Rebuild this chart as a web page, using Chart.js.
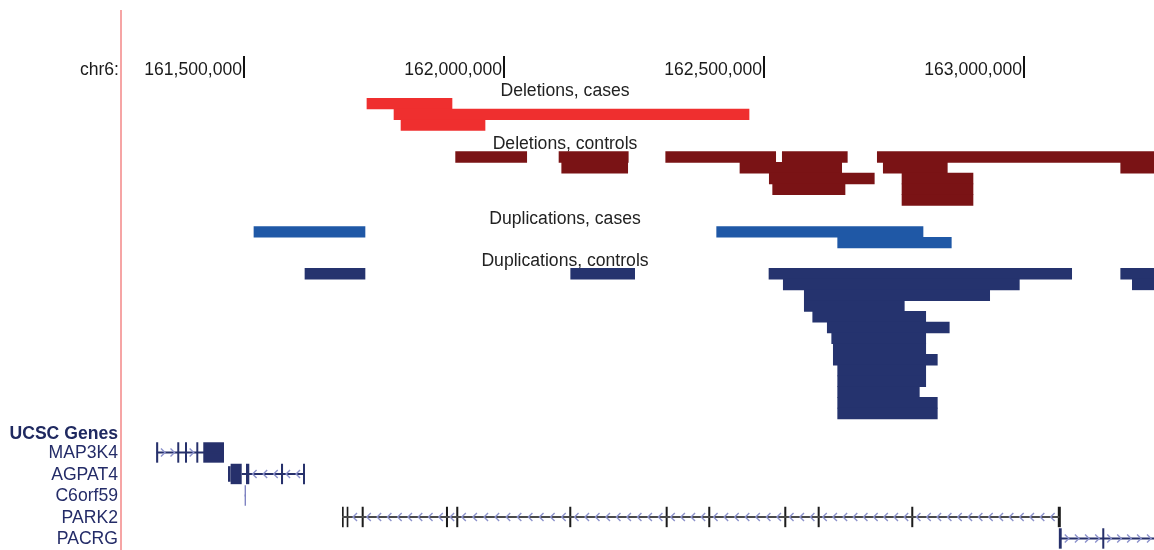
<!DOCTYPE html>
<html>
<head>
<meta charset="utf-8">
<script src="https://cdn.jsdelivr.net/npm/chart.js@4.4.1/dist/chart.umd.min.js"></script>
<style>
  html, body { margin: 0; padding: 0; background: #fff; }
  #wrap { position: relative; width: 1154px; height: 550px; }
</style>
</head>
<body>
<div id="wrap"><canvas id="c"></canvas></div>
<script>
// Browser window on chr6
const CHROM = 'chr6:';
const VIEW_START = 161265400;
const VIEW_END = 163250000;
const tickValues = [161500000, 162000000, 162500000, 163000000];
const tickLabels = ['161,500,000', '162,000,000', '162,500,000', '163,000,000'];

// CNV calls: [start, end, packing row]
const deletionsCases = [
  [161736500, 161900000, 0],
  [161788500, 162471200, 1],
  [161802000, 161963500, 2]
];
const deletionsControls = [
  [161907000, 162043700, 0], [162105800, 162239000, 0], [162311000, 162522500, 0],
  [162535200, 162660200, 0], [162717900, 163250000, 0],
  [162111000, 162237900, 1], [162453800, 162649400, 1], [162729400, 162852500, 1],
  [163186000, 163250000, 1],
  [162510200, 162712100, 2], [162765400, 162901900, 2],
  [162516700, 162655800, 3], [162765400, 162901900, 3],
  [162765400, 162901900, 4]
];
const duplicationsCases = [
  [161519200, 161732700, 0], [162409000, 162805800, 0],
  [162641700, 162860200, 1]
];
const duplicationsControls = [
  [161617300, 161732700, 0], [162128300, 162251300, 0], [162509600, 163091700, 0],
  [163186000, 163250000, 0],
  [162537100, 162991000, 1], [163208300, 163250000, 1],
  [162577500, 162934000, 2],
  [162577500, 162769800, 3],
  [162593700, 162811000, 4],
  [162621700, 162856300, 5],
  [162630200, 162811000, 6],
  [162633300, 162811000, 7],
  [162633300, 162833300, 8],
  [162641700, 162811000, 9],
  [162641700, 162811000, 10],
  [162641700, 162798700, 11],
  [162641700, 162833300, 12],
  [162641700, 162833300, 13]
];
const trackTitles = ['Deletions, cases', 'Deletions, controls', 'Duplications, cases', 'Duplications, controls'];

// UCSC Genes
const geneNames = ['MAP3K4', 'AGPAT4', 'C6orf59', 'PARK2', 'PACRG'];
const geneStrands = ['+', '-', '', '-', '+'];
const geneSpans = [
  [161332100, 161461500],
  [161495600, 161615400],
  [161501200, 161503800],
  [161688500, 163067900],
  [163068000, 163300000]
];
const geneExons = [
  [[161331000, 161335000], [161371700, 161375500], [161386500, 161390400], [161408300, 161412100], [161421700, 161461500]],
  [[161474300, 161495600], [161503800, 161510200], [161571200, 161575100], [161613500, 161617300]],
  [[161501200, 161503800]],
  [[161688500, 161691700], [161697500, 161700700], [161726300, 161730200], [161888400, 161892300],
   [161908200, 161912100], [162125500, 162129400], [162310900, 162314800], [162392800, 162396700],
   [162539000, 162542900], [162603200, 162607100], [162783200, 162787100], [163065000, 163070800]],
  [[163067000, 163072500], [163150500, 163154400]]
];
const geneUtrs = [[], [[161469200, 161474300]], [], [], []];

// ---- layout & styles ----
const ROW_PX = 10.75;
const Y_ROWS = 550 / ROW_PX;
const TRACK_TOPS = [9.14, 14.11, 21.07, 24.96];   // in rows
const GENE_TOP = 42.09;
const GENE_PITCH = 2;
const TRACK_COLORS = ['#EF2F2F', '#7A1315', '#1F58A6', '#25336E'];
const GENE_COLORS = ['#26306B', '#26306B', '#7C81C0', '#1C1C1C', '#26306B'];
const GENE_LINE_COLORS = ['#26306B', '#26306B', '#7C81C0', '#4A4A4A', '#26306B'];
const CHEVRON_COLOR = '#8C92CC';
const FONT = '"Liberation Sans", Arial, Helvetica, sans-serif';

const barBase = { categoryPercentage: 1, barPercentage: 1, grouped: false, clip: 0, borderWidth: 0 };

const cnvTracks = [deletionsCases, deletionsControls, duplicationsCases, duplicationsControls];
const datasets = cnvTracks.map((rows, t) => Object.assign({}, barBase, {
  label: trackTitles[t],
  data: rows.map(([s, e, r]) => ({ x: [s, e], y: TRACK_TOPS[t] + r + 0.5 })),
  backgroundColor: TRACK_COLORS[t]
}));

const geneY = g => GENE_TOP + g * GENE_PITCH;

// intron lines
datasets.push(Object.assign({}, barBase, {
  label: 'gene lines',
  data: geneSpans.map((s, g) => ({ x: s, y: geneY(g) })),
  backgroundColor: geneSpans.map((s, g) => GENE_LINE_COLORS[g]),
  barPercentage: 0.17
}));
// UTR blocks
const utrData = [], utrColors = [];
geneUtrs.forEach((list, g) => list.forEach(u => { utrData.push({ x: u, y: geneY(g) }); utrColors.push(GENE_COLORS[g]); }));
datasets.push(Object.assign({}, barBase, {
  label: 'UTRs', data: utrData, backgroundColor: utrColors, barPercentage: 1.45
}));
// exon blocks
const exonData = [], exonColors = [];
geneExons.forEach((list, g) => list.forEach(ex => { exonData.push({ x: ex, y: geneY(g) }); exonColors.push(GENE_COLORS[g]); }));
datasets.push(Object.assign({}, barBase, {
  label: 'exons', data: exonData, backgroundColor: exonColors, barPercentage: 1.9
}));

const browserDecor = {
  id: 'browserDecor',
  beforeDatasetsDraw(chart) {
    const { ctx, chartArea } = chart;
    const x = chart.scales.x, y = chart.scales.y;
    ctx.save();
    // gutter divider
    ctx.fillStyle = '#F6A5A5';
    ctx.fillRect(chartArea.left - 2, 10, 2, chart.height - 10);

    // position ruler
    ctx.font = '17.6px ' + FONT;
    ctx.textBaseline = 'alphabetic';
    ctx.textAlign = 'right';
    ctx.fillStyle = '#1a1a1a';
    ctx.fillText(CHROM, chartArea.left - 3, 75);
    tickValues.forEach((v, i) => {
      const px = x.getPixelForValue(v);
      ctx.fillStyle = '#111';
      ctx.fillRect(px - 1, 56, 2, 22);
      ctx.fillStyle = '#1a1a1a';
      ctx.fillText(tickLabels[i], px - 2, 75);
    });

    // track titles
    ctx.textAlign = 'center';
    ctx.fillStyle = '#222';
    trackTitles.forEach((t, i) => ctx.fillText(t, 565, y.getPixelForValue(TRACK_TOPS[i]) - 2.5));

    // gene labels
    ctx.textAlign = 'right';
    ctx.fillStyle = '#1F2960';
    ctx.font = 'bold 17.6px ' + FONT;
    ctx.fillText('UCSC Genes', chartArea.left - 4, y.getPixelForValue(GENE_TOP) - 13.5);
    ctx.font = '17.6px ' + FONT;
    ctx.fillStyle = '#242C68';
    geneNames.forEach((n, g) => ctx.fillText(n, chartArea.left - 4, y.getPixelForValue(geneY(g)) + 6));
    ctx.restore();
  },
  afterDatasetsDraw(chart) {
    const { ctx, chartArea } = chart;
    const x = chart.scales.x, y = chart.scales.y;
    ctx.save();
    ctx.beginPath();
    ctx.rect(chartArea.left, chartArea.top, chartArea.right - chartArea.left, chartArea.bottom - chartArea.top);
    ctx.clip();
    ctx.strokeStyle = CHEVRON_COLOR;
    ctx.lineWidth = 1.4;
    geneStrands.forEach((strand, g) => {
      if (!strand) return;
      const dir = strand === '+' ? 1 : -1;
      const cy = y.getPixelForValue(geneY(g));
      const lineEnd = Math.min(x.getPixelForValue(geneSpans[g][1]), chartArea.right);
      const blocks = geneExons[g].concat(geneUtrs[g])
        .map(e => [x.getPixelForValue(e[0]), x.getPixelForValue(e[1])])
        .sort((a, b) => a[0] - b[0]);
      // intron gaps between blocks
      const gaps = [];
      let cursor = x.getPixelForValue(geneSpans[g][0]);
      blocks.forEach(b => {
        if (b[0] > cursor) gaps.push([cursor, b[0]]);
        cursor = Math.max(cursor, b[1]);
      });
      if (lineEnd > cursor) gaps.push([cursor, lineEnd]);
      gaps.forEach(([a, b]) => {
        const len = b - a;
        if (len < 8) return;
        const n = Math.max(1, Math.round(len / 10.7));
        const step = len / n;
        for (let k = 0; k < n; k++) {
          const cx = a + (k + 0.5) * step;
          ctx.beginPath();
          ctx.moveTo(cx - 2 * dir, cy - 4);
          ctx.lineTo(cx + 2 * dir, cy);
          ctx.lineTo(cx - 2 * dir, cy + 4);
          ctx.stroke();
        }
      });
    });
    ctx.restore();
  }
};

new Chart(document.getElementById('c'), {
  type: 'bar',
  data: { datasets },
  options: {
    indexAxis: 'y',
    responsive: true,
    maintainAspectRatio: false,
    animation: false,
    devicePixelRatio: 1,
    layout: { padding: { left: 122, right: 0, top: 0, bottom: 0 } },
    plugins: { legend: { display: false }, tooltip: { enabled: false } },
    scales: {
      x: { type: 'linear', min: VIEW_START, max: VIEW_END, display: false },
      y: { type: 'linear', reverse: true, min: 0, max: Y_ROWS, offset: false, display: false,
           ticks: { stepSize: 1 } }
    }
  },
  plugins: [browserDecor]
});
</script>
</body>
</html>
